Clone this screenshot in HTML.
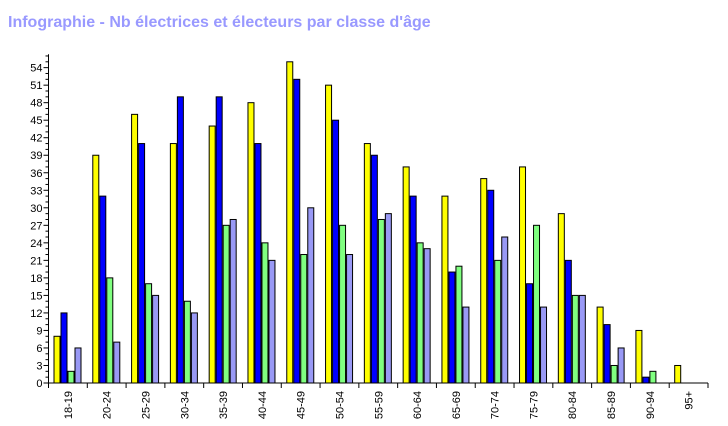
<!DOCTYPE html>
<html><head><meta charset="utf-8"><style>
body{margin:0;background:#fff;}
svg{display:block;font-family:"Liberation Sans",sans-serif;}
</style></head><body>
<svg id="c" width="728" height="426">
<text x="8" y="27" font-size="16" font-weight="bold" fill="#9999ff">Infographie - Nb électrices et électeurs par classe d'âge</text>
<g id="g"></g>
</svg>
<script>
const categories=["18-19","20-24","25-29","30-34","35-39","40-44","45-49","50-54","55-59","60-64","65-69","70-74","75-79","80-84","85-89","90-94","95+"];
const seriesYellow=[8,39,46,41,44,48,55,51,41,37,32,35,37,29,13,9,3];
const seriesBlue=[12,32,41,49,49,41,52,45,39,32,19,33,17,21,10,1,0];
const seriesGreen=[2,18,17,14,27,24,22,27,28,24,20,21,27,15,3,2,0];
const seriesLavender=[6,7,15,12,28,21,30,22,29,23,13,25,13,15,6,0,0];
const yTicks=[0,3,6,9,12,15,18,21,24,27,30,33,36,39,42,45,48,51,54];
const NS="http://www.w3.org/2000/svg";
const g=document.getElementById('g');
const x0=48.5,x1=708,y0=383,unit=5.84,yMax=56.3;
const cw=(x1-x0)/categories.length;
const yS=v=>y0-v*unit;
function mk(t,a){const e=document.createElementNS(NS,t);for(const k in a)e.setAttribute(k,a[k]);g.appendChild(e);return e;}
const series=[[seriesYellow,"#ffff00","yellow"],[seriesBlue,"#0000ff","blue"],[seriesGreen,"#80ff80","green"],[seriesLavender,"#9999f5","lavender"]];
categories.forEach((c,i)=>{
  series.forEach(([arr,col,nm],s)=>{
    const v=arr[i];if(!v)return;
    const r=mk('rect',{x:x0+i*cw+5.5+s*7,y:yS(v),width:6,height:v*unit,fill:col,stroke:"#000","stroke-width":1});
    
    
  });
  const tx=x0+(i+1)*cw;
  const t=mk('line',{x1:tx,y1:y0,x2:tx,y2:y0+5,stroke:"#000"});
  
  
  const cx=x0+i*cw+cw/2+4;
  const l=mk('text',{x:0,y:0,transform:`translate(${cx},${y0+8}) rotate(-90)`,"text-anchor":"end","font-size":11,fill:"#000"});
  l.textContent=c;
  
  
});
for(let v=0;v<=56;v++){
  const major=v%3===0;
  const t=mk('line',{x1:x0-(major?5:3),y1:yS(v),x2:x0,y2:yS(v),stroke:"#000"});
  
  
}
yTicks.forEach(v=>{
  const l=mk('text',{x:x0-6,y:yS(v)+4,"text-anchor":"end","font-size":11,fill:"#000"});
  l.textContent=v;
  
  
});
const ya=mk('line',{x1:x0,y1:y0,x2:x0,y2:yS(yMax),stroke:"#000"});


const xa=mk('line',{x1:x0,y1:y0,x2:x1,y2:y0,stroke:"#000"});


const t0=mk('line',{x1:x0,y1:y0,x2:x0,y2:y0+5,stroke:"#000"});


</script>
</body></html>
